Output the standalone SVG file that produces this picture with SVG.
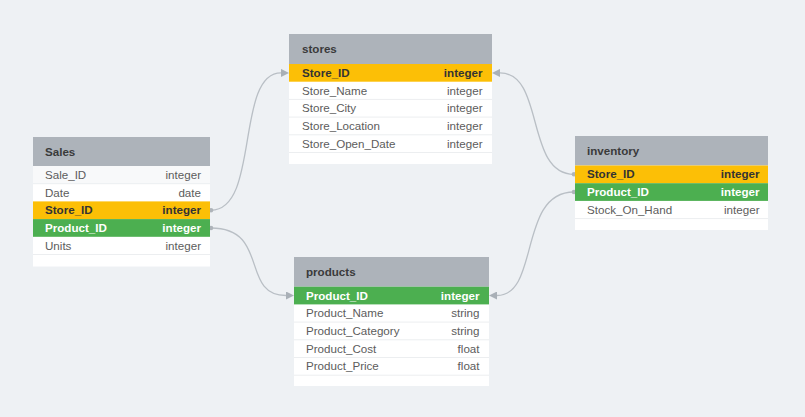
<svg xmlns="http://www.w3.org/2000/svg" width="805" height="417" viewBox="0 0 805 417">
<defs>
<style>
.bg{fill:#eef1f4}
.card{fill:#ffffff}
.hdr{fill:#adb3ba}
.alt{fill:#f8f9fa}
.sep{stroke:#eceef0;stroke-width:1}
.pk{fill:#fcbf06}
.fk{fill:#4caf50}
.title{font-family:"Liberation Sans",Arial,sans-serif;font-size:11.6px;font-weight:bold;fill:#3a3a3a}
.f{font-family:"Liberation Sans",Arial,sans-serif;font-size:11.6px;fill:#5c5c5c}
.fb{font-family:"Liberation Sans",Arial,sans-serif;font-size:11.6px;font-weight:bold;fill:#333333}
.fw{font-family:"Liberation Sans",Arial,sans-serif;font-size:11.6px;font-weight:bold;fill:#ffffff}
.r{text-anchor:end}
.conn{fill:none;stroke:#b9bfc5;stroke-width:1.3}
.dot{fill:#aeb4ba}
</style>
<marker id="arr" viewBox="0 0 8 8" refX="0" refY="4" markerWidth="8" markerHeight="8" orient="auto" markerUnits="userSpaceOnUse">
<path d="M0,0 L8,4 L0,8 Z" fill="#a9b0b7"/>
</marker>
</defs>
<rect class="bg" x="0" y="0" width="805" height="417"/>

<g id="connectors">
<path class="conn" d="M211,210.2 C260,210.2 235,72.9 281,72.9" marker-end="url(#arr)"/>
<circle class="dot" cx="211" cy="210.2" r="2.3"/>
<path class="conn" d="M211,228 C270,228 240,295.5 286,295.5" marker-end="url(#arr)"/>
<circle class="dot" cx="211" cy="228" r="2.3"/>
<path class="conn" d="M574,174.3 C525,174.3 545,72.9 500,72.9" marker-end="url(#arr)"/>
<circle class="dot" cx="574" cy="174.3" r="2.3"/>
<path class="conn" d="M574,192 C518,192 540,295.5 497,295.5" marker-end="url(#arr)"/>
<circle class="dot" cx="574" cy="192" r="2.3"/>
</g>

<g id="sales">
<rect class="card" x="33" y="137" width="177" height="129.5"/>
<rect class="hdr" x="33" y="137" width="177" height="29"/>
<text class="title" x="45" y="155.5">Sales</text>
<rect class="alt" x="33" y="166" width="177" height="17.7"/>
<rect class="pk" x="33" y="201.4" width="177" height="17.7"/>
<rect class="fk" x="33" y="219.1" width="177" height="17.7"/>
<line class="sep" x1="33" y1="183.7" x2="210" y2="183.7"/>
<line class="sep" x1="33" y1="254.5" x2="210" y2="254.5"/>
<text class="f" x="45" y="178.8">Sale_ID</text><text class="f r" x="201" y="178.8">integer</text>
<text class="f" x="45" y="196.5">Date</text><text class="f r" x="201" y="196.5">date</text>
<text class="fb" x="45" y="214.2">Store_ID</text><text class="fb r" x="201" y="214.2">integer</text>
<text class="fw" x="45" y="231.9">Product_ID</text><text class="fw r" x="201" y="231.9">integer</text>
<text class="f" x="45" y="249.6">Units</text><text class="f r" x="201" y="249.6">integer</text>
</g>

<g id="stores">
<rect class="card" x="289" y="34" width="203" height="130"/>
<rect class="hdr" x="289" y="34" width="203" height="30"/>
<text class="title" x="302" y="53">stores</text>
<rect class="pk" x="289" y="64" width="203" height="17.7"/>
<line class="sep" x1="289" y1="99.4" x2="492" y2="99.4"/>
<line class="sep" x1="289" y1="117.1" x2="492" y2="117.1"/>
<line class="sep" x1="289" y1="134.8" x2="492" y2="134.8"/>
<line class="sep" x1="289" y1="152.5" x2="492" y2="152.5"/>
<text class="fb" x="302" y="76.8">Store_ID</text><text class="fb r" x="482.5" y="76.8">integer</text>
<text class="f" x="302" y="94.5">Store_Name</text><text class="f r" x="482.5" y="94.5">integer</text>
<text class="f" x="302" y="112.2">Store_City</text><text class="f r" x="482.5" y="112.2">integer</text>
<text class="f" x="302" y="129.9">Store_Location</text><text class="f r" x="482.5" y="129.9">integer</text>
<text class="f" x="302" y="147.6">Store_Open_Date</text><text class="f r" x="482.5" y="147.6">integer</text>
</g>

<g id="inventory">
<rect class="card" x="575" y="136" width="193" height="94"/>
<rect class="hdr" x="575" y="136" width="193" height="29.5"/>
<text class="title" x="587" y="155">inventory</text>
<rect class="pk" x="575" y="165.5" width="193" height="17.7"/>
<rect class="fk" x="575" y="183.2" width="193" height="17.7"/>
<line class="sep" x1="575" y1="218.6" x2="768" y2="218.6"/>
<text class="fb" x="587" y="178.3">Store_ID</text><text class="fb r" x="759.5" y="178.3">integer</text>
<text class="fw" x="587" y="196">Product_ID</text><text class="fw r" x="759.5" y="196">integer</text>
<text class="f" x="587" y="213.7">Stock_On_Hand</text><text class="f r" x="759.5" y="213.7">integer</text>
</g>

<g id="products">
<rect class="card" x="294" y="257" width="195" height="129"/>
<rect class="hdr" x="294" y="257" width="195" height="29.7"/>
<text class="title" x="306" y="276">products</text>
<rect class="fk" x="294" y="286.7" width="195" height="17.7"/>
<line class="sep" x1="294" y1="322.1" x2="489" y2="322.1"/>
<line class="sep" x1="294" y1="339.8" x2="489" y2="339.8"/>
<line class="sep" x1="294" y1="357.5" x2="489" y2="357.5"/>
<line class="sep" x1="294" y1="375.2" x2="489" y2="375.2"/>
<text class="fw" x="306" y="299.5">Product_ID</text><text class="fw r" x="479.5" y="299.5">integer</text>
<text class="f" x="306" y="317.2">Product_Name</text><text class="f r" x="479.5" y="317.2">string</text>
<text class="f" x="306" y="334.9">Product_Category</text><text class="f r" x="479.5" y="334.9">string</text>
<text class="f" x="306" y="352.6">Product_Cost</text><text class="f r" x="479.5" y="352.6">float</text>
<text class="f" x="306" y="370.3">Product_Price</text><text class="f r" x="479.5" y="370.3">float</text>
</g>
</svg>
